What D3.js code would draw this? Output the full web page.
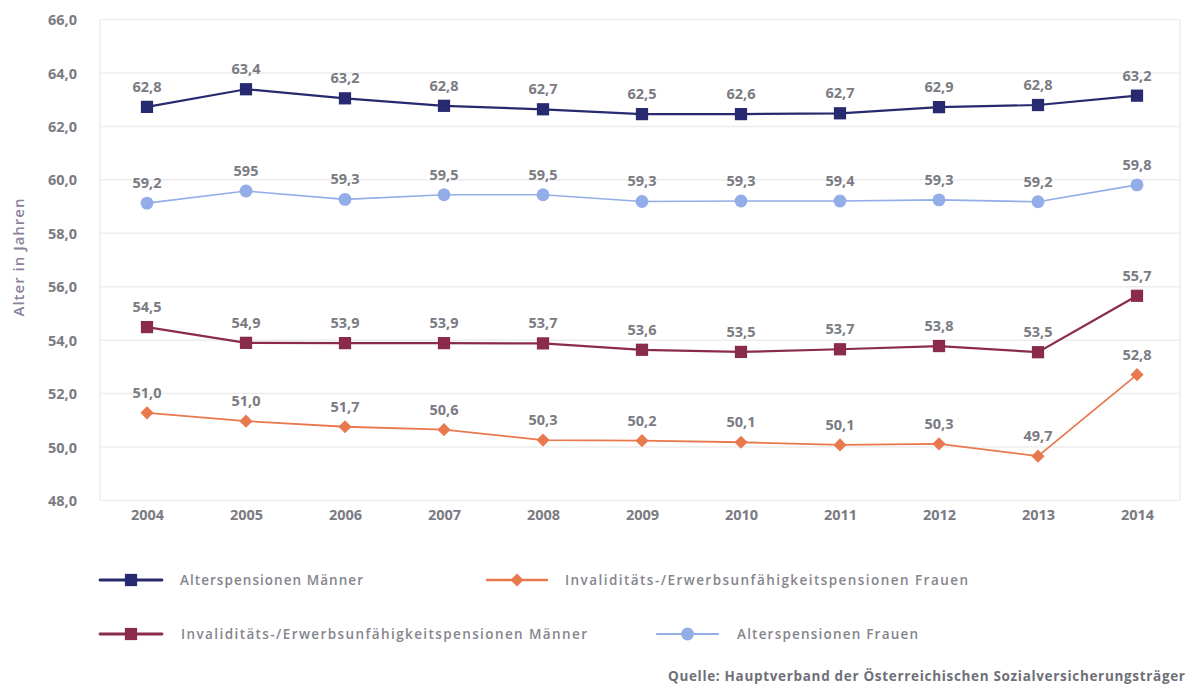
<!DOCTYPE html>
<html>
<head>
<meta charset="utf-8">
<script src="https://cdn.jsdelivr.net/npm/d3@7"></script>
<style>
  body { margin: 0; background: #fff; }
  svg text { font-family: "Open Sans", sans-serif; }
</style>
</head>
<body>
<script>
// years on the x axis
const years = ["2004", "2005", "2006", "2007", "2008", "2009", "2010", "2011", "2012", "2013", "2014"];

// plotted values (read from point positions) and printed labels
const altMaenner = [62.73, 63.39, 63.05, 62.77, 62.64, 62.46, 62.46, 62.49, 62.72, 62.8, 63.15];
const altMaennerLbl = ["62,8", "63,4", "63,2", "62,8", "62,7", "62,5", "62,6", "62,7", "62,9", "62,8", "63,2"];

const altFrauen = [59.13, 59.58, 59.27, 59.44, 59.44, 59.19, 59.21, 59.21, 59.25, 59.18, 59.81];
const altFrauenLbl = ["59,2", "595", "59,3", "59,5", "59,5", "59,3", "59,3", "59,4", "59,3", "59,2", "59,8"];

const invMaenner = [54.49, 53.9, 53.89, 53.89, 53.88, 53.64, 53.56, 53.66, 53.78, 53.55, 55.66];
const invMaennerLbl = ["54,5", "54,9", "53,9", "53,9", "53,7", "53,6", "53,5", "53,7", "53,8", "53,5", "55,7"];

const invFrauen = [51.28, 50.97, 50.76, 50.65, 50.26, 50.24, 50.18, 50.08, 50.12, 49.66, 52.71];
const invFrauenLbl = ["51,0", "51,0", "51,7", "50,6", "50,3", "50,2", "50,1", "50,1", "50,3", "49,7", "52,8"];

const yTicks = [48, 50, 52, 54, 56, 58, 60, 62, 64, 66];

const series = [
  { name: "Alterspensionen Männer", values: altMaenner, labels: altMaennerLbl, color: "#272a6e", marker: "square", width: 2.2 },
  { name: "Alterspensionen Frauen", values: altFrauen, labels: altFrauenLbl, color: "#93ade8", marker: "circle", width: 1.6 },
  { name: "Invaliditäts-/Erwerbsunfähigkeitspensionen Männer", values: invMaenner, labels: invMaennerLbl, color: "#8a2b4b", marker: "square", width: 2.2 },
  { name: "Invaliditäts-/Erwerbsunfähigkeitspensionen Frauen", values: invFrauen, labels: invFrauenLbl, color: "#e8794f", marker: "diamond", width: 1.8 }
];

const W = 1188, H = 685;
const margin = { top: 20, right: 8, bottom: 185, left: 100 };

const svg = d3.select("body").append("svg")
  .attr("width", W).attr("height", H);

const x = d3.scalePoint()
  .domain(years)
  .range([147, 1137]);

const y = d3.scaleLinear()
  .domain([48, 66])
  .range([500.5, 19.5]);

// grid
const grid = svg.append("g");
grid.selectAll("line.h").data(yTicks).enter().append("line")
  .attr("x1", margin.left).attr("x2", 1180)
  .attr("y1", d => y(d)).attr("y2", d => y(d))
  .attr("stroke", "#ececee").attr("stroke-width", 1.5);
grid.append("line")
  .attr("x1", margin.left).attr("x2", margin.left)
  .attr("y1", y(66)).attr("y2", y(48))
  .attr("stroke", "#ececee").attr("stroke-width", 1.5);
grid.append("line")
  .attr("x1", 1180).attr("x2", 1180)
  .attr("y1", y(66)).attr("y2", y(48))
  .attr("stroke", "#ececee").attr("stroke-width", 1.5);

// y axis
const yAxis = d3.axisLeft(y)
  .tickValues(yTicks)
  .tickSize(0)
  .tickPadding(0)
  .tickFormat(d => d3.format(".1f")(d).replace(".", ","));
svg.append("g")
  .attr("transform", "translate(77,0)")
  .call(yAxis)
  .call(g => g.select(".domain").remove())
  .selectAll("text")
  .attr("fill", "#7b7b83")
  .style("font-size", "14.5px")
  .style("font-weight", "700")
  .attr("dy", "0.35em");

// x axis
const xAxis = d3.axisBottom(x).tickSize(0).tickPadding(0);
svg.append("g")
  .attr("transform", "translate(0,510)")
  .call(xAxis)
  .call(g => g.select(".domain").remove())
  .selectAll("text")
  .attr("fill", "#7b7b83")
  .style("font-size", "14.5px")
  .style("font-weight", "700");

// y title
svg.append("text")
  .attr("transform", "translate(24,257) rotate(-90)")
  .attr("text-anchor", "middle")
  .attr("fill", "#8c7f9b")
  .style("font-size", "15px")
  .style("font-weight", "600")
  .style("letter-spacing", "1px")
  .text("Alter in Jahren");

const symbolFor = m => m === "square" ? d3.symbolSquare : m === "diamond" ? d3.symbolDiamond2 : d3.symbolCircle;
const sizeFor = m => m === "square" ? 150 : m === "diamond" ? 110 : 130;

const line = d3.line().x((d, i) => x(years[i])).y(d => y(d));

series.forEach(s => {
  const g = svg.append("g");
  g.append("path")
    .attr("d", line(s.values))
    .attr("fill", "none")
    .attr("stroke", s.color)
    .attr("stroke-width", s.width);
  g.selectAll("path.m").data(s.values).enter().append("path")
    .attr("transform", (d, i) => `translate(${x(years[i])},${y(d)})`)
    .attr("d", d3.symbol().type(symbolFor(s.marker)).size(sizeFor(s.marker)))
    .attr("fill", s.color);
  g.selectAll("text").data(s.labels).enter().append("text")
    .attr("x", (d, i) => x(years[i]))
    .attr("y", (d, i) => y(s.values[i]) - 15)
    .attr("text-anchor", "middle")
    .attr("fill", "#7b7b83")
    .style("font-size", "14.5px")
    .style("font-weight", "700")
    .text(d => d);
});

// legend
const legendItems = [
  { s: series[0], lx: 100, lw: 62, ly: 580, tx: 180, tw: 183 },
  { s: series[3], lx: 487, lw: 60, ly: 580, tx: 565, tw: 403 },
  { s: series[2], lx: 100, lw: 62, ly: 634, tx: 181, tw: 406 },
  { s: series[1], lx: 657, lw: 61, ly: 634, tx: 737, tw: 181 }
];
const legend = svg.append("g");
legendItems.forEach(it => {
  legend.append("line")
    .attr("x1", it.lx).attr("x2", it.lx + it.lw)
    .attr("y1", it.ly).attr("y2", it.ly)
    .attr("stroke", it.s.color).attr("stroke-width", it.s.width + 0.6)
    .attr("stroke-linecap", "round");
  legend.append("path")
    .attr("transform", `translate(${it.lx + it.lw / 2},${it.ly})`)
    .attr("d", d3.symbol().type(symbolFor(it.s.marker)).size(sizeFor(it.s.marker)))
    .attr("fill", it.s.color);
  legend.append("text")
    .attr("x", it.tx).attr("y", it.ly)
    .attr("dy", "0.35em")
    .attr("fill", "#85858d")
    .attr("textLength", it.tw)
    .attr("lengthAdjust", "spacing")
    .style("font-size", "13.5px")
    .style("font-weight", "600")
    .text(it.s.name);
});

// source
svg.append("text")
  .attr("x", 668).attr("y", 676)
  .attr("dy", "0.35em")
  .attr("fill", "#6f6f78")
  .attr("textLength", 517)
  .attr("lengthAdjust", "spacing")
  .style("font-size", "13.5px")
  .style("font-weight", "700")
  .text("Quelle: Hauptverband der Österreichischen Sozialversicherungsträger");
</script>
</body>
</html>
